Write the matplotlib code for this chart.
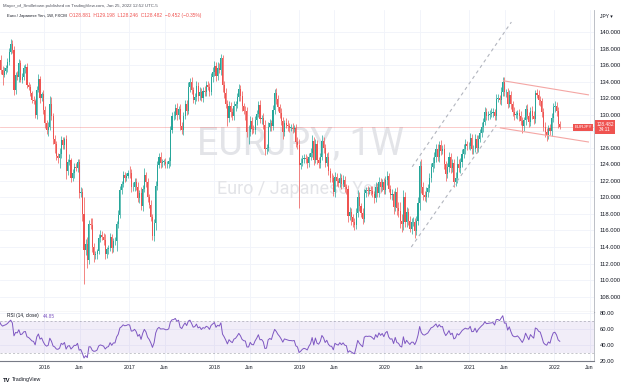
"""EUR/JPY weekly candles with RSI(14) pane, TradingView look."""

import matplotlib
matplotlib.use("Agg")
import matplotlib.pyplot as plt
import matplotlib.dates as mdates
import numpy as np
import pandas as pd

# ---------------------------------------------------------------------------
# Data: weekly closes (JPY per EUR), one list per year.
# The first weeks (Mar-Jun 2015) sit left of the visible window and only seed RSI.
# ---------------------------------------------------------------------------
close_2015_early = [128.0, 130.0, 130.3, 129.0, 127.8, 127.3, 128.6, 132.8, 133.6, 135.6,
                    134.3, 133.9, 137.5, 138.4, 137.3, 136.6]
close_2015 = [135.4, 134.8, 135.3, 135.7, 136.4, 137.6, 138.6, 137.8, 133.0, 134.8,
              134.6, 136.3, 134.2, 134.5, 135.6, 135.8, 133.6, 133.3, 132.6, 131.8,
              131.6, 130.0, 133.0, 134.3, 132.0, 132.5, 130.6]
close_2016 = [129.0, 128.2, 128.5, 131.3, 129.8, 127.0, 126.4, 125.0, 124.8, 125.2,
              126.9, 126.3, 127.0, 123.2, 124.3, 124.5, 122.4, 123.0, 123.7, 123.6,
              124.3, 120.5, 120.7, 118.0, 113.6, 114.4, 112.4, 116.8, 116.7, 114.0,
              113.0, 113.1, 113.5, 115.1, 115.5, 115.2, 114.8, 113.1, 113.7, 113.9,
              115.2, 113.9, 114.7, 114.7, 116.8, 117.9, 120.9, 121.6, 122.7, 122.4,
              122.6, 123.0]
close_2017 = [122.9, 121.2, 121.3, 121.9, 121.3, 119.9, 120.5, 118.9, 121.0, 122.7,
              121.9, 120.0, 119.1, 117.6, 115.3, 116.9, 121.4, 123.9, 124.9, 124.2,
              124.3, 124.3, 124.0, 124.0, 124.4, 128.2, 129.8, 129.9, 130.8, 130.0,
              130.7, 128.6, 128.2, 129.9, 131.3, 130.5, 133.3, 134.0, 133.0, 131.8,
              132.1, 133.5, 132.3, 132.8, 132.0, 132.9, 132.7, 133.6, 133.4, 132.8,
              134.5, 135.2]
close_2018 = [135.9, 134.7, 135.6, 135.4, 136.9, 133.6, 132.6, 131.3, 129.6, 131.1,
              130.3, 129.8, 131.0, 131.3, 132.1, 133.1, 132.3, 131.0, 130.5, 130.4,
              127.9, 127.9, 129.2, 128.3, 128.2, 129.3, 130.1, 131.2, 129.5, 129.6,
              128.8, 125.9, 126.0, 128.5, 129.0, 128.6, 130.6, 132.6, 131.9, 130.9,
              130.2, 129.2, 127.9, 129.0, 128.8, 128.6, 128.4, 128.4, 128.3, 128.4,
              126.7, 126.3, 123.9]
close_2019 = [124.2, 124.6, 124.8, 124.6, 124.2, 124.9, 125.4, 126.8, 124.5, 126.4,
              124.5, 124.1, 124.9, 126.8, 126.0, 124.2, 124.9, 123.2, 122.4, 122.3,
              120.6, 122.5, 122.0, 121.7, 122.4, 121.6, 122.1, 121.2, 121.0, 117.8,
              118.2, 117.6, 117.0, 116.6, 118.1, 120.1, 118.9, 118.1, 117.4, 120.5,
              120.9, 120.8, 120.9, 120.8, 120.4, 119.9, 121.3, 120.5, 121.9, 121.2,
              121.8, 120.9]
close_2020 = [122.1, 122.6, 121.0, 120.3, 120.4, 118.8, 120.6, 118.7, 118.4, 117.2,
              116.8, 120.0, 117.0, 118.2, 117.1, 116.2, 117.0, 117.0, 115.9, 117.1,
              119.3, 123.8, 121.3, 120.3, 120.1, 120.6, 121.1, 122.3, 123.7, 124.1,
              124.9, 125.9, 124.9, 126.3, 125.6, 125.8, 124.0, 122.8, 123.7, 124.9,
              123.5, 124.1, 121.9, 122.3, 124.0, 123.5, 124.3, 125.3, 125.9, 126.4,
              126.2, 126.2]
close_2021 = [127.2, 125.8, 125.9, 127.1, 126.0, 127.1, 127.8, 128.5, 129.1, 130.3,
              129.9, 130.0, 130.1, 130.2, 130.3, 129.9, 131.9, 132.0, 131.8, 132.8,
              134.0, 132.7, 132.7, 131.3, 132.4, 131.3, 130.3, 130.0, 130.0, 130.2,
              129.8, 129.2, 128.6, 129.3, 130.7, 129.9, 129.1, 130.4, 129.9, 129.5,
              132.6, 132.4, 131.8, 131.6, 130.3, 128.5, 127.9, 127.6, 128.4, 128.0,
              129.6, 130.9]
close_2022 = [131.1, 130.4, 128.93, 128.48]

# Wick lengths above / below the candle body, in tenths of a yen.
up_2015_early = [5, 6, 5, 4, 6, 5, 4, 6, 5, 6, 5, 4, 8, 5, 6, 5]
lo_2015_early = [6, 5, 4, 5, 6, 5, 4, 5, 6, 5, 4, 6, 5, 6, 5, 4]
up_2015 = [6, 5, 5, 3, 4, 5, 5, 4, 5, 4, 5, 4, 3, 5, 4, 3, 4, 3, 4, 3, 5, 3, 5, 6, 4, 3, 5]
lo_2015 = [5, 12, 3, 4, 5, 4, 3, 4, 6, 5, 4, 6, 3, 4, 3, 5, 4, 3, 3, 4, 3, 4, 5, 3, 6, 4, 5]
up_2016 = [5, 4, 6, 10, 8, 4, 5, 4, 4, 8, 5, 4, 3, 6, 4, 8, 3, 4, 4, 5, 3, 4, 5, 4, 20, 6,
           8, 5, 7, 8, 5, 4, 3, 5, 6, 4, 5, 8, 3, 4, 5, 4, 4, 5, 3, 6, 5, 4, 5, 4, 4, 3]
lo_2016 = [6, 5, 8, 4, 5, 6, 10, 5, 6, 12, 4, 5, 4, 10, 5, 4, 5, 4, 6, 4, 5, 6, 4, 8, 41, 6,
           10, 4, 5, 6, 8, 5, 6, 4, 5, 4, 6, 5, 4, 5, 4, 6, 5, 4, 12, 5, 4, 5, 4, 5, 4, 3]
up_2017 = [8, 5, 5, 4, 5, 6, 4, 7, 5, 8, 4, 5, 4, 6, 4, 5, 6, 5, 5, 6, 4, 4, 5, 4, 5, 4,
           5, 6, 5, 6, 4, 6, 5, 4, 5, 5, 6, 4, 5, 4, 5, 6, 4, 5, 4, 5, 6, 5, 5, 4, 5, 6]
lo_2017 = [5, 6, 4, 5, 4, 5, 6, 4, 5, 4, 6, 5, 4, 5, 4, 6, 8, 5, 4, 6, 5, 4, 5, 4, 5, 6,
           4, 5, 4, 6, 5, 4, 5, 6, 4, 5, 4, 6, 5, 4, 5, 4, 6, 5, 4, 5, 4, 5, 4, 5, 4, 5]
up_2018 = [6, 5, 8, 6, 4, 3, 5, 6, 5, 6, 4, 5, 6, 4, 5, 6, 5, 6, 4, 6, 5, 8, 6, 5, 4, 6,
           5, 5, 6, 4, 6, 5, 4, 6, 5, 4, 6, 5, 6, 5, 4, 6, 5, 4, 6, 5, 4, 5, 6, 4, 5, 6, 8]
lo_2018 = [5, 6, 5, 4, 6, 8, 6, 5, 10, 5, 6, 5, 4, 6, 5, 4, 6, 5, 4, 10, 6, 15, 5, 6, 4, 5,
           6, 4, 5, 6, 5, 8, 6, 4, 5, 6, 4, 5, 6, 5, 6, 4, 8, 5, 4, 6, 5, 4, 5, 4, 6, 5, 52]
up_2019 = [6, 5, 4, 5, 4, 5, 6, 8, 5, 6, 5, 4, 5, 8, 5, 4, 5, 6, 4, 5, 4, 6, 5, 4, 5, 4,
           6, 5, 4, 5, 6, 5, 4, 5, 6, 8, 5, 4, 6, 5, 4, 5, 4, 5, 6, 4, 5, 4, 6, 5, 4, 5]
lo_2019 = [5, 4, 5, 4, 6, 5, 4, 5, 6, 4, 5, 6, 5, 4, 6, 5, 4, 5, 6, 5, 4, 5, 6, 4, 5, 6,
           4, 5, 6, 8, 5, 10, 6, 5, 4, 5, 6, 5, 6, 4, 5, 6, 4, 5, 4, 6, 5, 4, 5, 6, 4, 5]
up_2020 = [5, 6, 4, 5, 6, 4, 5, 6, 8, 10, 8, 9, 6, 6, 5, 6, 5, 6, 5, 6, 8, 6, 8, 6, 5, 6,
           5, 6, 5, 8, 6, 5, 6, 5, 6, 5, 6, 4, 5, 6, 5, 6, 5, 8, 10, 6, 5, 6, 5, 6, 4, 5]
lo_2020 = [5, 6, 4, 5, 6, 8, 5, 8, 8, 9, 10, 7, 6, 6, 5, 4, 6, 5, 8, 5, 4, 8, 8, 6, 5, 6,
           5, 4, 5, 6, 5, 6, 5, 6, 5, 4, 6, 8, 5, 6, 5, 4, 6, 5, 6, 4, 5, 6, 5, 6, 5, 4]
up_2021 = [6, 5, 4, 6, 5, 4, 5, 6, 5, 6, 5, 4, 5, 6, 5, 4, 6, 5, 4, 6, 5, 6, 4, 5, 6, 5,
           4, 6, 5, 4, 5, 6, 5, 4, 5, 6, 4, 5, 6, 5, 4, 5, 6, 5, 4, 5, 6, 5, 4, 5, 6, 5]
lo_2021 = [5, 6, 5, 4, 6, 5, 4, 5, 6, 4, 5, 6, 5, 4, 5, 6, 5, 4, 5, 6, 5, 4, 6, 5, 4, 6,
           5, 6, 4, 5, 6, 5, 8, 6, 5, 4, 6, 5, 4, 6, 5, 4, 6, 5, 6, 5, 6, 8, 5, 4, 6, 5]
up_2022 = [6, 4, 5, 3]
lo_2022 = [6, 5, 6, 2]

# Drawn trend lines (date, price) as placed on the chart
up_channel_dates = ["2020-04-30", "2021-06-30"]
up_channel_hi = [123.7, 141.2]
up_channel_lo_dates = ["2020-04-26", "2021-04-26"]
up_channel_lo = [114.0, 128.75]
down_channel_dates = ["2021-05-27", "2022-05-27"]
down_channel_hi = [134.1, 132.4]
down_channel_lo_dates = ["2021-05-14", "2022-05-27"]
down_channel_lo = [128.4, 126.7]

last_price = 128.482
rsi_last_label = "44.85"
price_ticks = list(range(108, 142, 2))
rsi_ticks = [20, 40, 60, 80]
year_labels = ["2016", "2017", "2018", "2019", "2020", "2021", "2022"]

UP = "#26a69a"
DOWN = "#ef5350"
RSI_COL = "#7e57c2"
GRID = "#f0f3fa"
TXT = "#131722"

# ---------------------------------------------------------------------------
closes = np.array(close_2015_early + close_2015 + close_2016 + close_2017 + close_2018
                  + close_2019 + close_2020 + close_2021 + close_2022)
up_w = np.array(up_2015_early + up_2015 + up_2016 + up_2017 + up_2018 + up_2019
                + up_2020 + up_2021 + up_2022) / 10.0
lo_w = np.array(lo_2015_early + lo_2015 + lo_2016 + lo_2017 + lo_2018 + lo_2019
                + lo_2020 + lo_2021 + lo_2022) / 10.0
n = len(closes)

dates = pd.date_range("2015-03-09", periods=n, freq="W-MON")
xd = mdates.date2num(dates.to_pydatetime())
opens = np.concatenate([[closes[0]], closes[:-1]])
highs = np.maximum(opens, closes) + up_w
lows = np.minimum(opens, closes) - lo_w

# RSI(14), Wilder smoothing
delta = np.diff(closes)
gain = np.clip(delta, 0, None)
loss = np.clip(-delta, 0, None)
rsi = np.full(n, np.nan)
ag = gain[:14].mean()
al = loss[:14].mean()
rsi[14] = 100 - 100 / (1 + ag / al)
for i in range(14, len(delta)):
    ag = (ag * 13 + gain[i]) / 14
    al = (al * 13 + loss[i]) / 14
    rsi[i + 1] = 100 - 100 / (1 + ag / al)

plt.rcParams["font.family"] = ["Liberation Sans", "DejaVu Sans"]

W, H = 624, 387
fig = plt.figure(figsize=(W / 100, H / 100), dpi=100)
x_right = 594 / W
ax = fig.add_axes([0.0, 1 - 311.5 / H, x_right, (311.5 - 10) / H])
ax_r = fig.add_axes([0.0, 1 - 361 / H, x_right, (361 - 312) / H], sharex=ax)

x0 = mdates.date2num(pd.Timestamp("2015-06-25"))
x1 = mdates.date2num(pd.Timestamp("2022-06-20"))

# --- price pane ---
col = np.where(closes >= opens, UP, DOWN)
ax.vlines(xd, lows, highs, colors=col, linewidth=0.5, zorder=3)
body = np.maximum(np.abs(closes - opens), 0.06)
ax.bar(xd, body, bottom=np.minimum(opens, closes), width=4.6, color=col,
       linewidth=0, zorder=4)

ax.plot(mdates.date2num(pd.to_datetime(up_channel_dates)), up_channel_hi,
        color="#b2b5be", lw=0.8, ls=(0, (3, 3)), zorder=5)
ax.plot(mdates.date2num(pd.to_datetime(up_channel_lo_dates)), up_channel_lo,
        color="#b2b5be", lw=0.8, ls=(0, (3, 3)), zorder=5)
ax.plot(mdates.date2num(pd.to_datetime(down_channel_dates)), down_channel_hi,
        color="#f4a6a4", lw=0.8, zorder=5)
ax.plot(mdates.date2num(pd.to_datetime(down_channel_lo_dates)), down_channel_lo,
        color="#f4a6a4", lw=0.8, zorder=5)

ax.axhline(last_price, color=DOWN, lw=0.6, alpha=0.35, zorder=2)

ax.set_xlim(x0, x1)
ax.set_ylim(106.2, 142.66)
ax.yaxis.tick_right()
ax.set_yticks(price_ticks)
# the 128 label sits under the last-price tag
ax.set_yticklabels(["" if v == 128 else f"{v:.3f}" for v in price_ticks])
ax.tick_params(axis="y", length=0, labelsize=4.2, labelcolor=TXT, pad=4)
ax.tick_params(axis="x", length=0, labelbottom=False)
ax.grid(True, color=GRID, lw=0.6)
ax.set_axisbelow(True)
for side in ("left", "top"):
    ax.spines[side].set_visible(False)
ax.spines["right"].set_color("#b2b5be")
ax.spines["right"].set_linewidth(0.6)
ax.spines["bottom"].set_color("#787b86")
ax.spines["bottom"].set_linewidth(0.8)

# watermark
ax.text(0.505, 0.555, "EURJPY, 1W", transform=ax.transAxes, ha="center", va="center",
        fontsize=27, color="#e3e4e8", zorder=1, family="Roboto")
ax.text(0.505, 0.405, "Euro / Japanese Yen", transform=ax.transAxes, ha="center",
        va="center", fontsize=13, color="#e3e4e8", zorder=1, family="Roboto")

# header and legend line
fig.text(3 / W, 1 - 5.5 / H,
         "Mayor_of_Smilletown published on TradingView.com, Jan 25, 2022 12:52 UTC-5",
         fontsize=3.2, color="#50535e", va="center")
t1 = fig.text(7 / W, 1 - 16 / H, "Euro / Japanese Yen, 1W, FXCM", fontsize=3.0,
              color=TXT, va="center")
fig.canvas.draw()
bb = t1.get_window_extent()
fig.text((bb.x1 + 2) / W, 1 - 16 / H,
         "O128.881  H129.198  L128.246  C128.482  \u22120.452 (\u22120.35%)",
         fontsize=3.5, color=DOWN, va="center")
fig.text(600 / W, 1 - 16 / H, "JPY \u25be", fontsize=3.6, color=TXT, va="center")

# last price tags
fig.text(583 / W, 1 - 127.5 / H, "EURJPY", fontsize=3.2, color="white", ha="center",
         va="center", bbox=dict(boxstyle="square,pad=0.25", fc=DOWN, ec="none"))
fig.text(605 / W, 1 - 127 / H, "128.482\n34:11", fontsize=3.4, color="white",
         ha="center", va="center", linespacing=1.1,
         bbox=dict(boxstyle="square,pad=0.3", fc=DOWN, ec="none"))

# --- RSI pane ---
ax_r.axhspan(30, 70, color=RSI_COL, alpha=0.1, lw=0)
ax_r.axhline(70, color="#787b86", lw=0.5, ls=(0, (3, 3)), alpha=0.6)
ax_r.axhline(30, color="#787b86", lw=0.5, ls=(0, (3, 3)), alpha=0.6)
ax_r.plot(xd, rsi, color=RSI_COL, lw=0.7, zorder=3)
ax_r.set_ylim(19.4, 81.3)
ax_r.yaxis.tick_right()
ax_r.set_yticks(rsi_ticks)
ax_r.set_yticklabels([f"{v:.2f}" for v in rsi_ticks])
ax_r.tick_params(axis="y", length=0, labelsize=4.2, labelcolor=TXT, pad=4)
ax_r.grid(True, color=GRID, lw=0.6)
ax_r.set_axisbelow(True)
for side in ("left", "top"):
    ax_r.spines[side].set_visible(False)
ax_r.spines["right"].set_color("#b2b5be")
ax_r.spines["right"].set_linewidth(0.6)
ax_r.spines["bottom"].set_color("#787b86")
ax_r.spines["bottom"].set_linewidth(0.8)

tick_pos, tick_lab = [], []
for yr in range(2015, 2023):
    if str(yr) in year_labels:
        tick_pos.append(mdates.date2num(pd.Timestamp(f"{yr}-01-01")))
        tick_lab.append(str(yr))
    tick_pos.append(mdates.date2num(pd.Timestamp(f"{yr}-06-01")))
    tick_lab.append("Jun")
ax_r.set_xticks(tick_pos)
ax_r.set_xticklabels(tick_lab)
ax_r.tick_params(axis="x", length=0, labelsize=3.8, labelcolor=TXT, pad=3)
ax_r.set_xlim(x0, x1)

fig.text(7 / W, 1 - 316 / H, "RSI (14, close)", fontsize=3.4, color=TXT, va="center")
fig.text(43 / W, 1 - 316 / H, rsi_last_label, fontsize=3.4, color=RSI_COL, va="center")

fig.text(3 / W, 1 - 380 / H, "TV", fontsize=4.2, color=TXT, va="center", weight="bold")
fig.text(12 / W, 1 - 380 / H, "TradingView", fontsize=3.8, color=TXT, va="center")

fig.savefig("out.png", dpi=100)
